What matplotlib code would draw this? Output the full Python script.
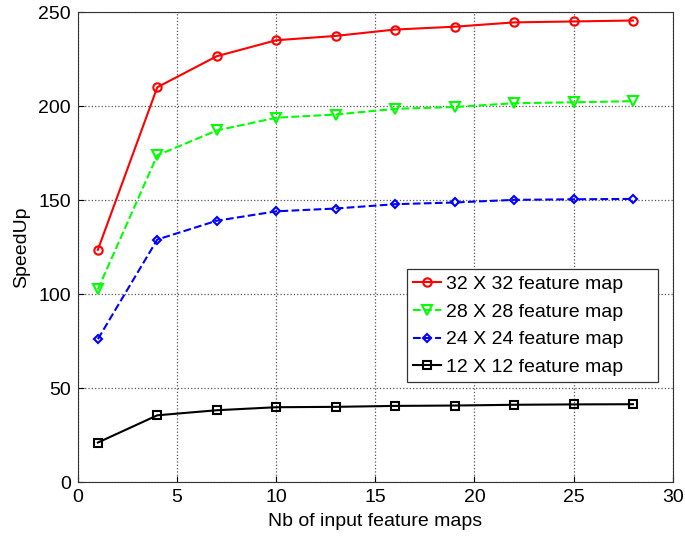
import numpy as np
import matplotlib
matplotlib.use("Agg")
import matplotlib.pyplot as plt

plt.rcParams['font.family'] = ['Liberation Sans', 'DejaVu Sans']

# number of input feature maps
nb_maps = [1, 4, 7, 10, 13, 16, 19, 22, 25, 28]

speedup_32 = [123.5, 210, 226.5, 235, 237.3, 240.7, 242.2, 244.5, 245, 245.5]
speedup_28 = [102.5, 173.8, 187, 193.8, 195.5, 198.5, 199.5, 201.5, 202, 202.6]
speedup_24 = [76, 129, 139, 144, 145.5, 147.8, 148.7, 150.1, 150.4, 150.6]
speedup_12 = [21, 35.5, 38.2, 39.8, 40, 40.5, 40.7, 41.1, 41.3, 41.4]

labels = ["32 X 32 feature map", "28 X 28 feature map",
          "24 X 24 feature map", "12 X 12 feature map"]

fig = plt.figure(figsize=(6.85, 5.38), dpi=100)
ax = fig.add_axes([0.1139, 0.104, 0.868, 0.8736])

ax.plot(nb_maps, speedup_32, color="red", linestyle="-", marker="o", markersize=6,
        markerfacecolor="none", markeredgewidth=1.5, linewidth=1.5, label=labels[0])
ax.plot(nb_maps, speedup_28, color="#00ff00", linestyle="--", marker="v", markersize=6.5,
        markerfacecolor="none", markeredgewidth=1.5, linewidth=1.5, label=labels[1])
ax.plot(nb_maps, speedup_24, color="blue", linestyle="--", marker="D", markersize=4.5,
        markerfacecolor="none", markeredgewidth=1.5, linewidth=1.5, label=labels[2])
ax.plot(nb_maps, speedup_12, color="black", linestyle="-", marker="s", markersize=6,
        markerfacecolor="none", markeredgewidth=1.5, linewidth=1.5, label=labels[3])

ax.set_xlim(0, 30)
ax.set_ylim(0, 250)
ax.set_xticks(np.arange(0, 31, 5))
ax.set_yticks(np.arange(0, 251, 50))
ax.tick_params(labelsize=14, direction="in", length=4, pad=5)
ax.grid(True, linestyle=":", color="#555555", linewidth=0.9)
for s in ax.spines.values():
    s.set_color("#333333")

ax.set_xlabel("Nb of input feature maps", fontsize=14, labelpad=5)
ax.set_ylabel("SpeedUp", fontsize=14, labelpad=6)

leg = ax.legend(loc="lower left", bbox_to_anchor=(0.553, 0.213, 0.422, 0.24),
                mode="expand", borderaxespad=0,
                fontsize=14, fancybox=False, framealpha=1, edgecolor="#333333",
                handlelength=1.45, handletextpad=0.25, labelspacing=0.52, borderpad=0.3)
leg.get_frame().set_linewidth(0.9)

fig.savefig("out.png", dpi=100)
